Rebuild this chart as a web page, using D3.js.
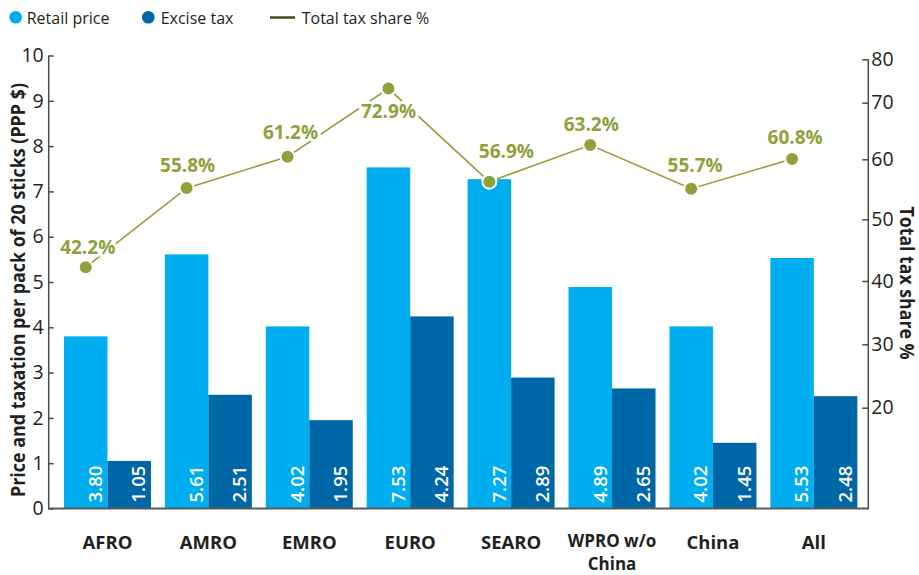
<!DOCTYPE html>
<html>
<head>
<meta charset="utf-8">
<script src="https://cdn.jsdelivr.net/npm/d3@7"></script>
<style>
  html, body { margin: 0; padding: 0; background: #fff; }
  svg { display: block; font-family: "Open Sans", "Noto Sans", sans-serif; }
</style>
</head>
<body>
<svg id="chart" width="919" height="575"></svg>
<script>
// ---- data ----
const categories = ["AFRO", "AMRO", "EMRO", "EURO", "SEARO", "WPRO w/o China", "China", "All"];
const categoryLines = [["AFRO"], ["AMRO"], ["EMRO"], ["EURO"], ["SEARO"], ["WPRO w/o", "China"], ["China"], ["All"]];
const retailPrice = [3.80, 5.61, 4.02, 7.53, 7.27, 4.89, 4.02, 5.53];
const exciseTax = [1.05, 2.51, 1.95, 4.24, 2.89, 2.65, 1.45, 2.48];
const taxShare = [42.2, 55.8, 61.2, 72.9, 56.9, 63.2, 55.7, 60.8];
const leftTicks = [0, 1, 2, 3, 4, 5, 6, 7, 8, 9, 10];
const rightTicks = [20, 30, 40, 50, 60, 70, 80];
const seriesNames = ["Retail price", "Excise tax", "Total tax share %"];
const leftTitle = "Price and taxation per pack of 20 sticks (PPP $)";
const rightTitle = "Total tax share %";

// ---- styles / layout ----
const C = { retail: "#00aeef", excise: "#0067a6", green: "#8ca23c", legendLine: "#3e4a1e", text: "#231f20", axis: "#4a4a4a" };
// label offsets (dx, dy of baseline relative to point)
const labelOffsets = [[2, -13], [1, -16], [3, -18], [0, 29], [17, -24], [1, -14], [4, -17], [3, -15]];

const svg = d3.select("#chart");
const axisLeftX = 48.7, axisRightX = 868.3, baseY = 508.5;

const x = d3.scaleBand().domain(categories).range([57, 864.3]).paddingInner(0.138).paddingOuter(0.069);
const xSub = d3.scaleBand().domain(["retail", "excise"]).range([0, x.bandwidth()]);
const yL = d3.scaleLinear().domain([0, 10]).range([baseY, 55.5]);
const yR = d3.scaleLinear().domain([0, 80]).range([512.8, 47.3]);
// right axis as drawn in the original (uneven tick spacing)
const yRAxis = d3.scaleLinear().domain(rightTicks).range([407.7, 344.3, 281, 219.3, 159.3, 102.7, 59.3]);

// ---- bars ----
const rows = categories.map((c, i) => ({ c, i, retail: retailPrice[i], excise: exciseTax[i], share: taxShare[i] }));
const g = svg.append("g");
["retail", "excise"].forEach(key => {
  g.selectAll("rect." + key).data(rows).enter().append("rect")
    .attr("class", key)
    .attr("x", d => x(d.c) + xSub(key))
    .attr("width", xSub.bandwidth())
    .attr("y", d => yL(d[key]))
    .attr("height", d => yL(0) - yL(d[key]))
    .attr("fill", C[key]);
  g.selectAll("text." + key).data(rows).enter().append("text")
    .attr("class", key)
    .attr("transform", d => `translate(${x(d.c) + xSub(key) + xSub.bandwidth() - 5.5},${baseY - 6}) rotate(-90)`)
    .attr("fill", "#fff")
    .attr("font-size", 18.5)
    .attr("font-weight", 600)
    .text(d => d[key].toFixed(2));
});

// ---- axes ----
const gl = svg.append("g").attr("transform", `translate(${axisLeftX},0)`)
  .call(d3.axisLeft(yL).tickValues(leftTicks).tickFormat(d3.format("d")).tickSizeInner(-5).tickSizeOuter(0).tickPadding(5));
gl.select(".domain").remove();
gl.selectAll(".tick line").attr("stroke", C.axis).attr("stroke-width", 1.5);
gl.selectAll(".tick text").attr("font-size", 19.5).attr("fill", C.text).attr("font-family", "Open Sans");
svg.append("line").attr("x1", axisLeftX).attr("x2", axisLeftX).attr("y1", yL(10)).attr("y2", baseY + 1)
  .attr("stroke", C.axis).attr("stroke-width", 1.5);

const gr = svg.append("g").attr("transform", `translate(${axisRightX},0)`)
  .call(d3.axisRight(yRAxis).tickValues(rightTicks).tickSizeInner(-6).tickSizeOuter(0).tickPadding(3));
gr.select(".domain").remove();
gr.selectAll(".tick line").attr("stroke", C.axis).attr("stroke-width", 1.5);
gr.selectAll(".tick text").attr("font-size", 19.5).attr("fill", C.text).attr("font-family", "Open Sans");
svg.append("line").attr("x1", axisRightX).attr("x2", axisRightX).attr("y1", yRAxis(80)).attr("y2", baseY + 1)
  .attr("stroke", C.axis).attr("stroke-width", 1.5);

// baseline
svg.append("line").attr("x1", axisLeftX).attr("x2", axisRightX).attr("y1", baseY).attr("y2", baseY)
  .attr("stroke", "#5a5a5a").attr("stroke-width", 2);

// category labels (one text per line)
const cat = svg.append("g");
rows.forEach(d => {
  const lines = categoryLines[d.i];
  const multi = lines.length > 1;
  lines.forEach((line, k) => {
    cat.append("text")
      .attr("x", x(d.c) + x.bandwidth() / 2)
      .attr("y", multi ? 546.5 + k * 23.2 : 548.5)
      .attr("text-anchor", "middle")
      .attr("font-size", multi ? 17 : 18.5).attr("font-weight", 700).attr("fill", C.text)
      .text(line);
  });
});

// axis titles
svg.append("text")
  .attr("transform", `translate(25,290) rotate(-90)`)
  .attr("text-anchor", "middle")
  .attr("font-size", 19.5).attr("font-weight", 700).attr("fill", C.text)
  .attr("textLength", 414).attr("lengthAdjust", "spacingAndGlyphs")
  .text(leftTitle);
svg.append("text")
  .attr("transform", `translate(899.5,283) rotate(90)`)
  .attr("text-anchor", "middle")
  .attr("font-size", 19.5).attr("font-weight", 700).attr("fill", C.text)
  .attr("textLength", 153).attr("lengthAdjust", "spacingAndGlyphs")
  .text(rightTitle);

// ---- line ----
const px = d => x(d.c) + xSub("retail") + xSub.bandwidth() / 2;
const line = d3.line().x(px).y(d => yR(d.share));
svg.append("path").datum(rows).attr("d", line)
  .attr("fill", "none").attr("stroke", C.green).attr("stroke-width", 1.6);
svg.append("g").selectAll("circle").data(rows).enter().append("circle")
  .attr("cx", px).attr("cy", d => yR(d.share)).attr("r", 7)
  .attr("fill", C.green).attr("stroke", "#fff").attr("stroke-width", 2);
svg.append("g").selectAll("text").data(rows).enter().append("text")
  .attr("x", d => px(d) + labelOffsets[d.i][0])
  .attr("y", d => yR(d.share) + labelOffsets[d.i][1])
  .attr("text-anchor", "middle")
  .attr("font-size", 19).attr("font-weight", 700)
  .attr("fill", C.green)
  .attr("stroke", "#fff").attr("stroke-width", 6).attr("paint-order", "stroke").attr("stroke-linejoin", "round")
  .text(d => d.share.toFixed(1) + "%");

// ---- legend ----
const lg = svg.append("g");
lg.append("circle").attr("cx", 15.7).attr("cy", 17.3).attr("r", 6.3).attr("fill", C.retail);
lg.append("text").attr("x", 26.7).attr("y", 23.5).attr("font-size", 16).attr("fill", C.text).text(seriesNames[0]);
lg.append("circle").attr("cx", 148.3).attr("cy", 17.3).attr("r", 6.3).attr("fill", C.excise);
lg.append("text").attr("x", 160.7).attr("y", 23.5).attr("font-size", 16).attr("fill", C.text).text(seriesNames[1]);
lg.append("line").attr("x1", 270).attr("x2", 295).attr("y1", 17.5).attr("y2", 17.5).attr("stroke", C.legendLine).attr("stroke-width", 2.5);
lg.append("text").attr("x", 301.7).attr("y", 23.5).attr("font-size", 16).attr("fill", C.text).text(seriesNames[2]);
</script>
</body>
</html>
